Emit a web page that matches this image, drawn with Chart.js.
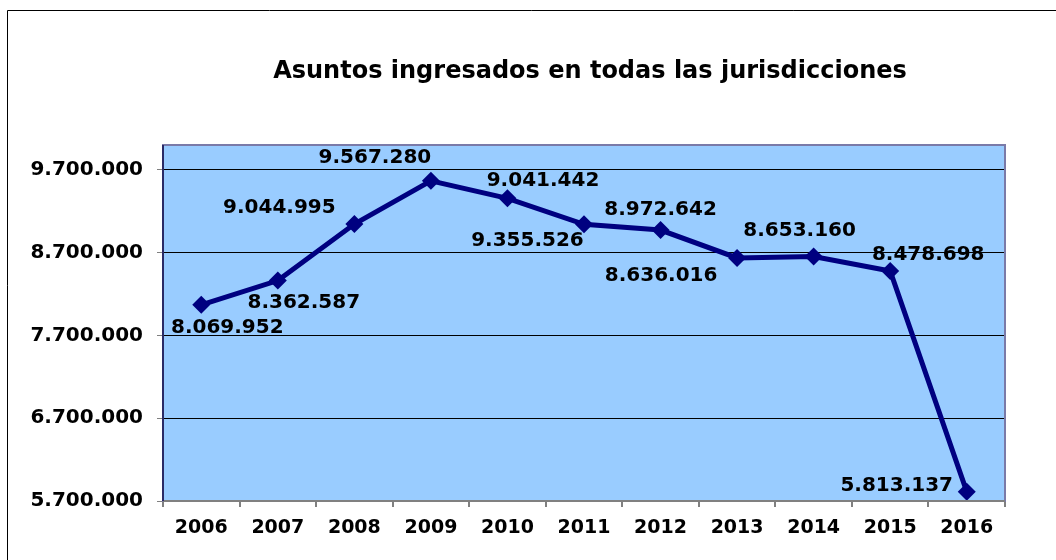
<!DOCTYPE html>
<html>
<head>
<meta charset="utf-8">
<script src="https://cdn.jsdelivr.net/npm/chart.js@4.4.1/dist/chart.umd.min.js"></script>
<style>
  html, body { margin: 0; padding: 0; background: #fff; }
  #wrap { width: 1056px; height: 560px; position: relative; }
</style>
</head>
<body>
<div id="wrap"><canvas id="chart" width="1056" height="560"></canvas></div>
<script>
const years = ["2006", "2007", "2008", "2009", "2010", "2011", "2012", "2013", "2014", "2015", "2016"];
const asuntos = [8069952, 8362587, 9044995, 9567280, 9355526, 9041442, 8972642, 8636016, 8653160, 8478698, 5813137];
const yTicks = [5700000, 6700000, 7700000, 8700000, 9700000];
const titleText = "Asuntos ingresados en todas las jurisdicciones";

// where each value label sits relative to its point (px)
const labelDx = [26, 26, -75, -56, 20, -41, 0, -76, -14, 38, -70];
const labelDy = [23, 22, -16, -23, 42, -44, -20, 18, -26, -16, -6];

const FONT = "'DejaVu Sans', Verdana, sans-serif";

function fmt(v) {
  return String(v).replace(/\B(?=(\d{3})+(?!\d))/g, ".");
}

const framePlugin = {
  id: "frame",
  beforeDraw(chart) {
    const c = chart.ctx;
    const a = chart.chartArea;
    c.save();
    c.fillStyle = "#99CCFF";
    c.fillRect(a.left, a.top, a.right - a.left, a.bottom - a.top);
    // outer frame
    c.strokeStyle = "#000";
    c.lineWidth = 1;
    c.beginPath();
    c.moveTo(7.5, 560);
    c.lineTo(7.5, 10.5);
    c.lineTo(1056, 10.5);
    c.stroke();
    // title
    c.fillStyle = "#000";
    c.font = "bold 24px " + FONT;
    c.textAlign = "center";
    c.textBaseline = "middle";
    c.fillText(titleText, 590, 72);
    c.restore();
  },
  afterDraw(chart) {
    const c = chart.ctx;
    const a = chart.chartArea;
    c.save();
    c.strokeStyle = "#7A7AA8";
    c.lineWidth = 2;
    c.strokeRect(a.left, a.top, a.right - a.left, a.bottom - a.top);
    c.strokeStyle = "#808080";
    c.beginPath();
    c.moveTo(a.left, a.bottom);
    c.lineTo(a.right, a.bottom);
    c.stroke();
    c.strokeStyle = "#2A2A66";
    c.beginPath();
    c.moveTo(a.left, a.top);
    c.lineTo(a.left, a.bottom);
    c.stroke();
    // value labels
    const meta = chart.getDatasetMeta(0);
    c.fillStyle = "#000";
    c.font = "bold 20px " + FONT;
    c.textAlign = "center";
    c.textBaseline = "middle";
    meta.data.forEach((pt, i) => {
      c.fillText(fmt(asuntos[i]), pt.x + labelDx[i], pt.y + labelDy[i]);
    });
    c.restore();
  }
};

new Chart(document.getElementById("chart"), {
  type: "line",
  data: {
    labels: years,
    datasets: [{
      data: asuntos,
      borderColor: "#000080",
      backgroundColor: "#000080",
      borderWidth: 5,
      pointStyle: "rectRot",
      pointRadius: 9,
      pointHoverRadius: 9,
      pointBorderWidth: 0,
      tension: 0,
      fill: false
    }]
  },
  options: {
    responsive: false,
    animation: false,
    layout: { padding: { top: 145, right: 51, left: 0, bottom: 0 } },
    plugins: {
      legend: { display: false },
      title: { display: false },
      tooltip: { enabled: false }
    },
    scales: {
      x: {
        type: "category",
        offset: true,
        grid: {
          offset: true,
          drawOnChartArea: false,
          drawTicks: true,
          tickLength: 6,
          color: "#808080",
          lineWidth: 2
        },
        border: { display: false },
        ticks: {
          color: "#000",
          padding: 10,
          font: { family: FONT, size: 19, weight: "bold" },
          maxRotation: 0
        },
        afterFit(scale) { scale.height = 59; }
      },
      y: {
        min: 5700000,
        max: 10000000,
        afterBuildTicks(scale) {
          scale.ticks = yTicks.map(v => ({ value: v }));
        },
        grid: {
          color: "#000",
          lineWidth: 1,
          drawTicks: true,
          tickLength: 6,
          tickColor: "#808080"
        },
        border: { display: false },
        ticks: {
          color: "#000",
          padding: 14,
          font: { family: FONT, size: 20, weight: "bold" },
          callback: v => fmt(v)
        },
        afterFit(scale) { scale.width = 163; }
      }
    }
  },
  plugins: [framePlugin]
});
</script>
</body>
</html>
